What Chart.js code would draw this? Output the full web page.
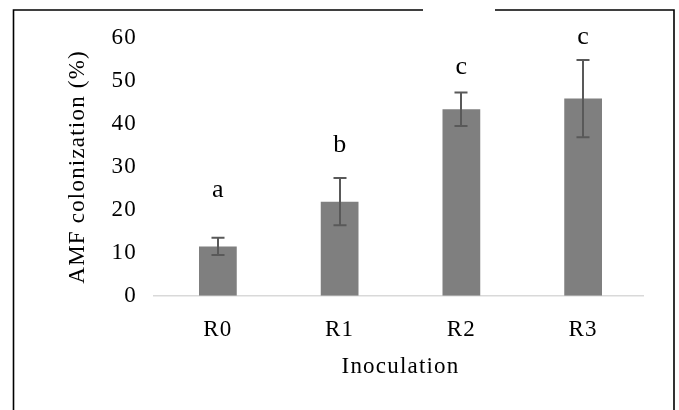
<!DOCTYPE html>
<html><head><meta charset="utf-8">
<script src="https://cdn.jsdelivr.net/npm/chart.js@4/dist/chart.umd.min.js"></script>
<style>html,body{margin:0;padding:0;background:#fff}#wrap{width:679px;height:410px;position:relative}</style>
</head><body><div id="wrap"><canvas id="c" width="679" height="410"></canvas></div>
<script>
const categories = ['R0', 'R1', 'R2', 'R3'];
const colonization = [11.5, 21.9, 43.4, 45.9];
const errors = [2.0, 5.5, 3.9, 9.0];
const letters = ['a', 'b', 'c', 'c'];
const letterValues = [23.1, 33.4, 51.7, 58.7];
const yTicks = [0, 10, 20, 30, 40, 50, 60];

const FONT = "'Liberation Serif', 'Times New Roman', serif";
const SPACING = '1.2px';

function setSpacing(chart) { try { chart.ctx.letterSpacing = SPACING; } catch (e) {} }

const spacingPlugin = {
  id: 'spacing',
  beforeUpdate: setSpacing,
  beforeLayout: setSpacing,
  beforeDraw: setSpacing
};

const framePlugin = {
  id: 'frame',
  beforeDraw(chart) {
    const ctx = chart.ctx;
    ctx.save();
    ctx.fillStyle = '#fff';
    ctx.fillRect(0, 0, chart.width, chart.height);
    ctx.strokeStyle = '#000';
    ctx.lineWidth = 1.6;
    ctx.beginPath();
    ctx.moveTo(13.5, chart.height + 2);
    ctx.lineTo(13.5, 10);
    ctx.lineTo(423, 10);
    ctx.moveTo(495, 10);
    ctx.lineTo(674, 10);
    ctx.lineTo(674, chart.height + 2);
    ctx.stroke();
    ctx.restore();
  }
};

const axisPlugin = {
  id: 'axisLine',
  beforeDatasetsDraw(chart) {
    const ctx = chart.ctx, a = chart.chartArea;
    const y = chart.scales.y.getPixelForValue(0);
    ctx.save();
    ctx.strokeStyle = '#d9d9d9';
    ctx.lineWidth = 1.6;
    ctx.beginPath();
    ctx.moveTo(a.left - 4, y);
    ctx.lineTo(a.right, y);
    ctx.stroke();
    ctx.restore();
  }
};

const errorPlugin = {
  id: 'errorBars',
  afterDatasetsDraw(chart) {
    const ctx = chart.ctx;
    const meta = chart.getDatasetMeta(0);
    const ys = chart.scales.y;
    ctx.save();
    ctx.strokeStyle = '#595959';
    ctx.lineWidth = 2;
    meta.data.forEach((bar, i) => {
      const x = Math.round(bar.x);
      const top = ys.getPixelForValue(colonization[i] + errors[i]);
      const bot = ys.getPixelForValue(colonization[i] - errors[i]);
      ctx.beginPath();
      ctx.moveTo(x, top); ctx.lineTo(x, bot);
      ctx.moveTo(x - 6.5, top); ctx.lineTo(x + 6.5, top);
      ctx.moveTo(x - 6.5, bot); ctx.lineTo(x + 6.5, bot);
      ctx.stroke();
    });
    ctx.fillStyle = '#000';
    ctx.font = '26px ' + FONT;
    ctx.letterSpacing = '0px';
    ctx.textAlign = 'center';
    ctx.textBaseline = 'alphabetic';
    meta.data.forEach((bar, i) => {
      ctx.fillText(letters[i], bar.x, ys.getPixelForValue(letterValues[i]));
    });
    ctx.restore();
  }
};

new Chart(document.getElementById('c'), {
  type: 'bar',
  data: {
    labels: categories,
    datasets: [{
      data: colonization,
      backgroundColor: '#7f7f7f',
      borderWidth: 0,
      categoryPercentage: 1,
      barPercentage: 0.31
    }]
  },
  options: {
    responsive: false,
    devicePixelRatio: 1,
    animation: false,
    layout: { padding: { left: 64, right: 35, top: 38, bottom: 29 } },
    plugins: { legend: { display: false }, tooltip: { enabled: false } },
    scales: {
      x: {
        grid: { display: false, drawTicks: false },
        border: { display: false },
        ticks: { color: '#000', font: { family: FONT, size: 23 }, padding: 20 },
        title: { display: true, text: 'Inoculation', color: '#000', font: { family: FONT, size: 23 }, padding: { top: -10, bottom: 0 } }
      },
      y: {
        min: 0, max: 60,
        afterBuildTicks(scale) { scale.ticks = yTicks.map(v => ({ value: v })); },
        grid: { display: false, drawTicks: false },
        border: { display: false },
        ticks: { color: '#000', font: { family: FONT, size: 23 }, padding: 20 },
        title: { display: true, text: 'AMF colonization (%)', color: '#000', font: { family: FONT, size: 23 }, padding: { top: 0, bottom: 0 } }
      }
    }
  },
  plugins: [spacingPlugin, framePlugin, axisPlugin, errorPlugin]
});
</script></body></html>
